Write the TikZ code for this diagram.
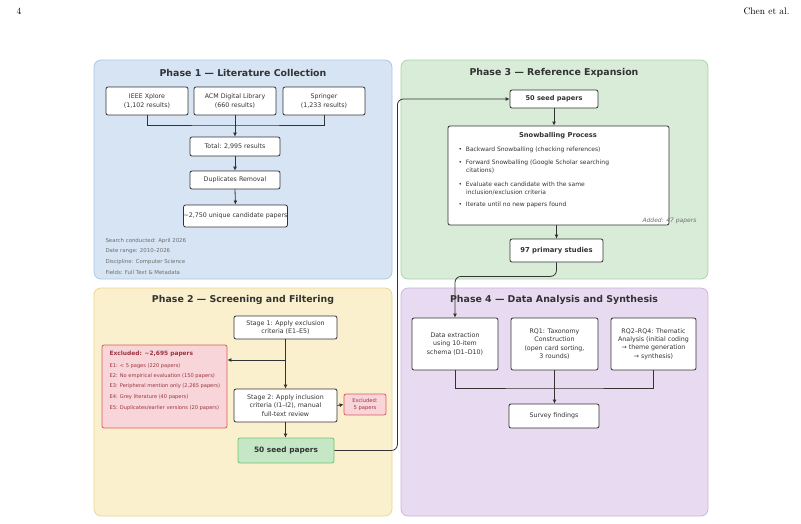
\documentclass[tikz,border=0pt]{standalone}
\usepackage{fontspec}
\usepackage{xcolor}
\usepackage{tikz}
\usetikzlibrary{arrows.meta, positioning, calc}
\newfontfamily\dejavu[Ligatures=TeX]{DejaVu Sans}
\definecolor{ink}{HTML}{333333}
\definecolor{notegray}{HTML}{6E6E6E}
\definecolor{PhaseBlue}{HTML}{D6E4F3}
\definecolor{PhaseBlueLine}{HTML}{A9C6E3}
\definecolor{PhaseGreen}{HTML}{D8ECD8}
\definecolor{PhaseGreenLine}{HTML}{A6D3A6}
\definecolor{PhaseYellow}{HTML}{FAF0CD}
\definecolor{PhaseYellowLine}{HTML}{E9D58F}
\definecolor{PhasePurple}{HTML}{E8DAF0}
\definecolor{PhasePurpleLine}{HTML}{C9B2DC}
\definecolor{ExclFill}{HTML}{F7D5D9}
\definecolor{ExclLine}{HTML}{E05A5A}
\definecolor{ExclText}{HTML}{9B3540}
\definecolor{SeedFill}{HTML}{C5E7C5}
\definecolor{SeedLine}{HTML}{74C374}

\begin{document}
\begin{tikzpicture}[x=1pt, y=-1pt, text=ink,
  font=\dejavu\fontsize{6.3}{8.2}\selectfont,
  phase/.style={draw, rounded corners=7pt, line width=0.7pt, inner sep=0pt},
  heading/.style={font=\dejavu\bfseries\fontsize{9.4}{11}\selectfont},
  stepbox/.style={draw=ink, fill=white, rounded corners=2pt, line width=0.8pt, align=center, inner sep=1pt},
  note/.style={anchor=west, text=notegray, font=\dejavu\fontsize{5.4}{6}\selectfont},
  bullet/.style={anchor=west, align=left, font=\dejavu\fontsize{6}{8}\selectfont},
  exclitem/.style={anchor=west, text=ExclText, font=\dejavu\fontsize{5.1}{6}\selectfont},
  link/.style={draw=ink, line width=0.8pt},
  flow/.style={link, -{Latex[length=4pt,width=4pt]}}
]
  \useasboundingbox (0,0) rectangle (801,523);

  % page header
  \node (pagenum) [anchor=west, text=black, font=\rmfamily\fontsize{9.5}{11}\selectfont] at (13,11) {4};
  \node (authors) [anchor=east, text=black, font=\rmfamily\fontsize{9.5}{11}\selectfont] at (793,11) {Chen et al.};

  % phase panels
  \node (ph1) [phase, fill=PhaseBlue, draw=PhaseBlueLine, minimum width=298pt, minimum height=219pt] at (243,169.5) {};
  \node (ph3) [phase, fill=PhaseGreen, draw=PhaseGreenLine, minimum width=307pt, minimum height=219pt] at (554.5,169.5) {};
  \node (ph2) [phase, fill=PhaseYellow, draw=PhaseYellowLine, minimum width=298pt, minimum height=228pt] at (243,402) {};
  \node (ph4) [phase, fill=PhasePurple, draw=PhasePurpleLine, minimum width=307pt, minimum height=228pt] at (554.5,402) {};

  \node (t1) [heading] at (243,73) {Phase 1 --- Literature Collection};
  \node (t3) [heading] at (554,73) {Phase 3 --- Reference Expansion};
  \node (t2) [heading] at (243,300) {Phase 2 --- Screening and Filtering};
  \node (t4) [heading] at (554,300) {Phase 4 --- Data Analysis and Synthesis};

  % Phase 1
  \node (ieee) [stepbox, minimum width=82pt, minimum height=28pt] at (147,101) {IEEE Xplore\\(1,102 results)};
  \node (acm) [stepbox, minimum width=82pt, minimum height=28pt] at (235,101) {ACM Digital Library\\(660 results)};
  \node (springer) [stepbox, minimum width=82pt, minimum height=28pt] at (324,101) {Springer\\(1,233 results)};
  \node (total) [stepbox, minimum width=90pt, minimum height=19pt] at (235,146.5) {Total: 2,995 results};
  \node (dedup) [stepbox, minimum width=90pt, minimum height=18pt] at (235,180) {Duplicates Removal};
  \node (unique) [stepbox, minimum width=99pt, minimum height=22pt, inner sep=0pt] at (235.5,216) {\textasciitilde2,750 unique candidate papers};

  \coordinate (merge1) at (235,125);
  \draw[link] (ieee.south) |- (merge1) -| (springer.south);
  \draw[flow] (acm.south) -- (total.north);
  \draw[flow] (total.south) -- (dedup.north);
  \draw[flow] (dedup.south) -- (unique.north);

  \node (info1) [note] at (102,241) {Search conducted: April 2026};
  \node (info2) [note] at (102,251.5) {Date range: 2010--2026};
  \node (info3) [note] at (102,262) {Discipline: Computer Science};
  \node (info4) [note] at (102,272) {Fields: Full Text \& Metadata};

  % Phase 3
  \node (seed3) [stepbox, font=\dejavu\bfseries\fontsize{6.6}{8}\selectfont, minimum width=88pt, minimum height=18pt] at (554,99) {50 seed papers};
  \node (snow) [stepbox, minimum width=221pt, minimum height=99pt] at (558.5,175.5) {};
  \node (snowtitle) [font=\dejavu\bfseries\fontsize{6.7}{8}\selectfont] at (558,136) {Snowballing Process};
  \node (b1) [bullet] at (455,150) {•\ \ Backward Snowballing (checking references)};
  \node (b2) [bullet] at (455,167) {•\ \ Forward Snowballing (Google Scholar searching\\\ \ \ \ citations)};
  \node (b3) [bullet] at (455,188) {•\ \ Evaluate each candidate with the same\\\ \ \ \ inclusion/exclusion criteria};
  \node (b4) [bullet] at (455,205) {•\ \ Iterate until no new papers found};
  \node (added) [anchor=east, text=notegray, font=\dejavu\itshape\fontsize{6}{7}\selectfont] at (700,221) {Added: 47 papers};
  \node (primary) [stepbox, font=\dejavu\bfseries\fontsize{6.8}{8}\selectfont, minimum width=93pt, minimum height=23pt] at (556.5,250.5) {97 primary studies};

  \draw[flow] (seed3.south) -- (seed3.south |- snow.north);
  \draw[flow] (primary.north |- snow.south) -- (primary.north);

  % Phase 2
  \node (stage1) [stepbox, minimum width=103pt, minimum height=23pt] at (285.5,327.5) {Stage 1: Apply exclusion\\criteria (E1--E5)};
  \node (excl) [stepbox, fill=ExclFill, draw=ExclLine, minimum width=125pt, minimum height=83pt] at (164.5,386.5) {};
  \node (excltitle) [anchor=west, text=ExclText, font=\dejavu\bfseries\fontsize{5.9}{7}\selectfont] at (106,354) {Excluded: \textasciitilde2,695 papers};
  \node (e1) [exclitem] at (106,366) {E1: < 5 pages (220 papers)};
  \node (e2) [exclitem] at (106,376) {E2: No empirical evaluation (150 papers)};
  \node (e3) [exclitem] at (106,386.5) {E3: Peripheral mention only (2,265 papers)};
  \node (e4) [exclitem] at (106,397) {E4: Grey literature (40 papers)};
  \node (e5) [exclitem] at (106,408) {E5: Duplicates/earlier versions (20 papers)};
  \node (stage2) [stepbox, minimum width=103pt, minimum height=33pt] at (285.5,405.5) {Stage 2: Apply inclusion\\criteria (I1--I2), manual\\full-text review};
  \node (exclsmall) [stepbox, fill=ExclFill, draw=ExclLine, text=ExclText, font=\dejavu\fontsize{5.2}{7.5}\selectfont, minimum width=42pt, minimum height=21pt] at (365,404.5) {Excluded:\\5 papers};
  \node (seed2) [stepbox, fill=SeedFill, draw=SeedLine, font=\dejavu\bfseries\fontsize{7.4}{8.5}\selectfont, minimum width=96pt, minimum height=25pt] at (286,450.5) {50 seed papers};

  \coordinate (split2) at (285.5,360);
  \draw[flow] (stage1.south) -- (stage2.north);
  \draw[flow] (split2) -- (split2 -| excl.east);
  \draw[flow] (stage2.east) -- (exclsmall.west);
  \draw[flow] (stage2.south) -- (stage2.south |- seed2.north);

  % Phase 4
  \node (extract) [stepbox, minimum width=86pt, minimum height=52pt] at (455,344) {Data extraction\\using 10-item\\schema (D1--D10)};
  \node (rqone) [stepbox, minimum width=87pt, minimum height=52pt] at (554.5,344) {RQ1: Taxonomy\\Construction\\(open card sorting,\\3 rounds)};
  \node (rqrest) [stepbox, minimum width=85pt, minimum height=52pt] at (653.5,344) {RQ2--RQ4: Thematic\\Analysis (initial coding\\→ theme generation\\→ synthesis)};
  \node (findings) [stepbox, minimum width=90pt, minimum height=24pt] at (554,416) {Survey findings};

  \coordinate (merge4) at (554.5,388);
  \draw[link] (extract.south) |- (merge4) -| (rqrest.south);
  \draw[flow] (rqone.south) -- (rqone.south |- findings.north);

  % links between phases
  \draw[flow, rounded corners=6pt] (seed2.east) -- ++(63,0) |- (seed3.west);
  \draw[flow, rounded corners=6pt] (primary.south) -- ++(0,14) -| (extract.north);
\end{tikzpicture}
\end{document}
